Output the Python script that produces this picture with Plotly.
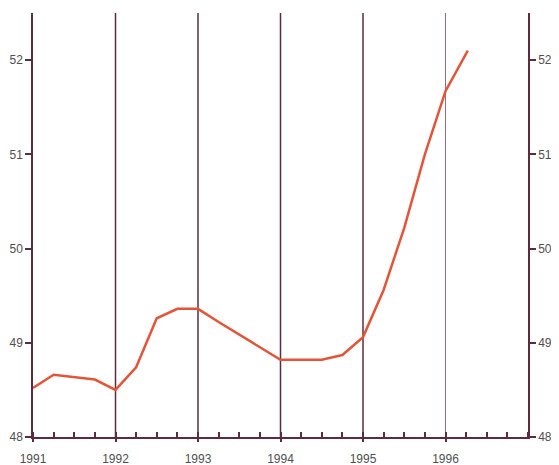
import plotly.graph_objects as go

# Quarterly readings (year fraction) and values
quarters = [1991.0, 1991.25, 1991.75, 1992.0, 1992.25, 1992.5, 1992.75, 1993.0,
            1993.25, 1994.0, 1994.25, 1994.5, 1994.75, 1995.0, 1995.25, 1995.5,
            1995.75, 1996.0, 1996.27]
values = [48.52, 48.66, 48.61, 48.50, 48.74, 49.26, 49.36, 49.36,
          49.22, 48.82, 48.82, 48.82, 48.87, 49.06, 49.56, 50.22,
          51.00, 51.67, 52.10]

year_ticks = [1991, 1992, 1993, 1994, 1995, 1996]
grid_years = [1992, 1993, 1994, 1995, 1996]
y_ticks = [48, 49, 50, 51, 52]

axis_col = '#5a2c3c'
text_col = '#505050'
font = dict(family='Liberation Sans, Arial', size=12, color=text_col)

fig = go.Figure()

fig.add_trace(go.Scatter(
    x=quarters, y=values,
    mode='lines',
    line=dict(color='#e2553a', width=2.5),
    showlegend=False
))
# invisible trace to activate right axis
fig.add_trace(go.Scatter(x=[1991], y=[48], yaxis='y2', mode='markers',
                         marker=dict(opacity=0), showlegend=False, hoverinfo='skip'))

# vertical year lines
for yr in grid_years:
    fig.add_shape(type='line', xref='x', yref='paper', x0=yr, x1=yr, y0=0, y1=1,
                  line=dict(color='#9a6b82' if yr == 1996 else axis_col,
                            width=1 if yr == 1996 else 1.5),
                  layer='below')

# page body has an 8px margin, so the figure is sized to fit inside the window
fig.update_layout(
    width=551, height=457,
    margin=dict(l=25, r=31, t=5, b=28, autoexpand=False),
    plot_bgcolor='white', paper_bgcolor='white',
    font=font,
    xaxis=dict(
        range=[1991, 1997], tickvals=year_ticks, ticktext=[str(y) for y in year_ticks],
        showgrid=False, zeroline=False, automargin=False,
        showline=True, linecolor=axis_col, linewidth=1.5,
        ticks='outside', ticklen=3, tickcolor=axis_col, tickwidth=1.5,
        ticklabelstandoff=7,
        minor=dict(ticks='inside', dtick=0.25, tick0=1991, ticklen=5,
                   tickcolor=axis_col, tickwidth=1.5),
        tickfont=font,
    ),
    yaxis=dict(
        range=[48, 52.5], tickvals=y_ticks, showgrid=False, zeroline=False,
        automargin=False,
        showline=True, linecolor=axis_col, linewidth=1.5,
        ticks='outside', ticklen=6, tickcolor=axis_col, tickwidth=1.5,
        tickfont=font,
    ),
    yaxis2=dict(
        range=[48, 52.5], tickvals=y_ticks, overlaying='y', side='right',
        showgrid=False, zeroline=False, automargin=False,
        showline=True, linecolor=axis_col, linewidth=1.5,
        ticks='outside', ticklen=6, tickcolor=axis_col, tickwidth=1.5,
        tickfont=font,
    ),
)

fig.write_html("out.html")
